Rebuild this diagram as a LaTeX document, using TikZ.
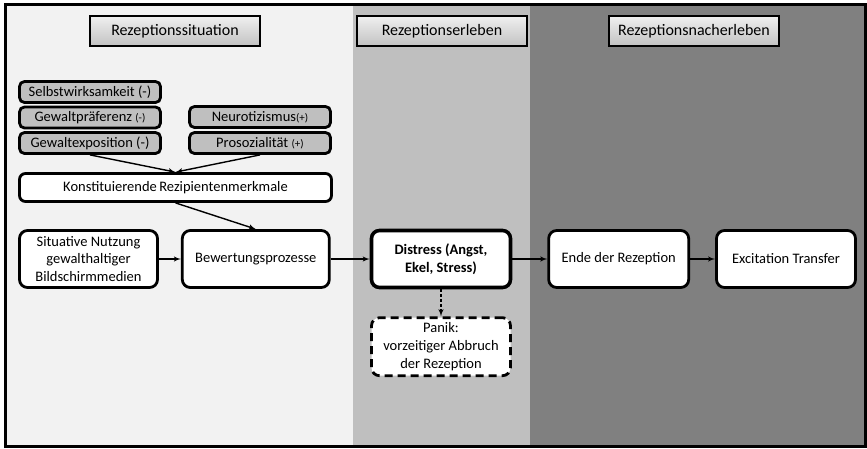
\documentclass[tikz,border=0pt]{standalone}
\usepackage{fontspec}
\setmainfont{Carlito}
\usetikzlibrary{arrows,shapes,positioning}
\definecolor{panelA}{HTML}{F2F2F2}
\definecolor{panelB}{HTML}{BFBFBF}
\definecolor{panelC}{HTML}{808080}
\tikzstyle{phase}=[draw=black,line width=1.2pt,top color=white!94!black,bottom color=black!24,minimum width=170pt,minimum height=30pt,inner sep=0pt,font=\fontsize{16}{19}\selectfont]
\tikzstyle{trait}=[draw=black,line width=2.8pt,rounded corners=5pt,fill=panelB,minimum width=141pt,minimum height=21pt,inner sep=0pt]
\tikzstyle{stage}=[draw=black,line width=2.8pt,rounded corners=8pt,fill=white,minimum height=57pt,align=center,inner sep=0pt]
\tikzstyle{post}=[->,line width=1.4pt]
\newcommand{\sm}[1]{{\fontsize{11}{13}\selectfont #1}}

\begin{document}
\begin{tikzpicture}[x=1pt,y=-1pt,>=latex',font=\fontsize{14.5}{17.7}\selectfont]
  \useasboundingbox (0,0) rectangle (867,448);
  % panels
  \fill[panelA] (5,4) rectangle (353,446);
  \fill[panelB] (353,4) rectangle (530,446);
  \fill[panelC] (530,4) rectangle (865,446);
  \draw[line width=3pt] (5,4) rectangle (865,446);

  % headers
  \node [phase] (h1) at (175,31)  {Rezeptionssituation};
  \node [phase] (h2) at (442,31)  {Rezeptionserleben};
  \node [phase] (h3) at (694,31)  {Rezeptionsnacherleben};

  % traits
  \node [trait] (selbst) at (90,92)    {Selbstwirksamkeit (-)};
  \node [trait] (gpraef) at (90,117.5) {Gewaltpräferenz \sm{(-)}};
  \node [trait] (gexp)   at (90,143)   {Gewaltexposition (-)};
  \node [trait] (neuro)  at (260,117)  {Neurotizismus\sm{(+)}};
  \node [trait] (proso)  at (260,143)  {Prosozialität \sm{(+)}};
  \node [stage,rounded corners=6pt,minimum width=312pt,minimum height=28pt] (kon) at (175.5,187.5) {Konstituierende\,Rezipientenmerkmale};

  % main row
  \node [stage,minimum width=138pt] (sit) at (88.5,259) {Situative Nutzung\\gewalthaltiger\\Bildschirmmedien};
  \node [stage,minimum width=147pt,right=22pt of sit] (bew) {Bewertungsprozesse};
  \node [stage,minimum width=139pt,line width=3.6pt,right=39pt of bew,font=\fontsize{14.5}{17.7}\selectfont\bfseries] (dis) {Distress (Angst,\\Ekel, Stress)};
  \node [stage,minimum width=140pt,right=35pt of dis] (ende) {Ende der Rezeption};
  \node [stage,minimum width=139pt,right=25pt of ende] (exc) {Excitation Transfer};
  \node [stage,minimum width=139pt,minimum height=58pt,dash pattern=on 8pt off 5pt,below=27pt of dis] (panik) {Panik:\\vorzeitiger Abbruch\\der Rezeption};

  % connectors
  \draw [post] (gexp.south) -- (kon.north);
  \draw [post] (proso.south) -- (kon.north);
  \draw [post] (kon.south) -- (bew.north);
  \draw [post] (sit) -- (bew);
  \draw [post] (bew) -- (dis);
  \draw [post] (dis) -- (ende);
  \draw [post] (ende) -- (exc);
  \draw [post,dash pattern=on 3pt off 2pt] (dis) -- (panik);
\end{tikzpicture}
\end{document}
